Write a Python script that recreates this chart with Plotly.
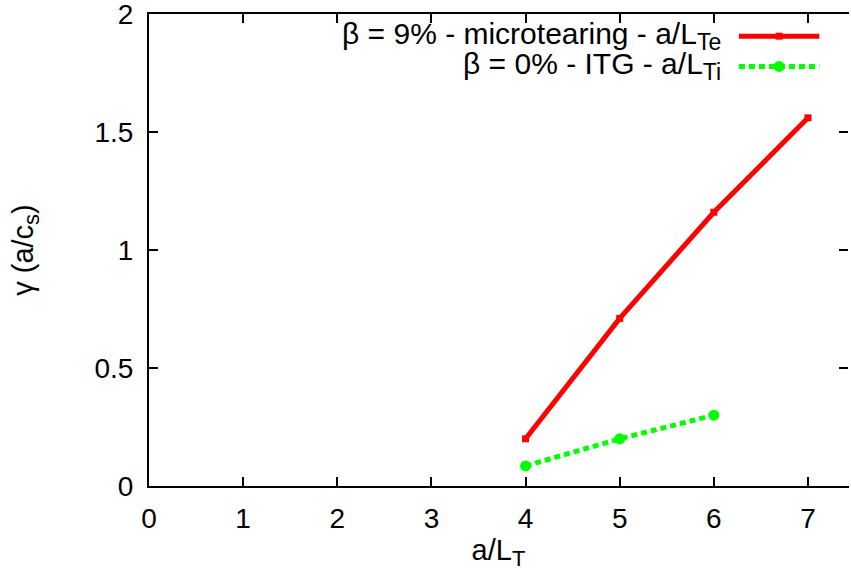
import plotly.graph_objects as go

# data
x_mt = [4, 5, 6, 7]
y_mt = [0.2, 0.71, 1.16, 1.56]
x_itg = [4, 5, 6]
y_itg = [0.085, 0.2, 0.3]

name_mt = "β = 9% - microtearing - a/L<sub><span style='font-size:23px'>Te</span></sub>"
name_itg = "β = 0% - ITG - a/L<sub><span style='font-size:23px'>Ti</span></sub>"
x_title = "a/L<sub><span style='font-size:22px'>T</span></sub>"
y_title = "γ (a/c<sub><span style='font-size:22px'>s</span></sub>)"
x_ticks = [0, 1, 2, 3, 4, 5, 6, 7]
y_ticks = [0, 0.5, 1, 1.5, 2]
y_tick_text = ["0", "0.5", "1", "1.5", "2"]

RED = "#ff0000"
GREEN = "#00ff00"
FONT = "Liberation Sans"

fig = go.Figure()
fig.add_trace(go.Scatter(x=x_mt, y=y_mt, mode="lines+markers",
                         line=dict(color=RED, width=5),
                         marker=dict(symbol="square", size=7, color=RED),
                         showlegend=False))
fig.add_trace(go.Scatter(x=x_itg, y=y_itg, mode="lines+markers",
                         line=dict(color=GREEN, width=5, dash="6px,4px"),
                         marker=dict(symbol="circle", size=11, color=GREEN),
                         showlegend=False))
# invisible trace to anchor the mirrored right-hand ticks
fig.add_trace(go.Scatter(x=x_mt, y=y_mt, yaxis="y2", mode="markers",
                         marker=dict(opacity=0), showlegend=False, hoverinfo="skip"))

# manual gnuplot-style legend (text left of the sample)
legend_rows = [(name_mt, RED, "solid", "square", 7, 0.953),
               (name_itg, GREEN, "6px,4px", "circle", 11, 0.889)]
for text, col, dash, sym, msz, yy in legend_rows:
    fig.add_annotation(x=0.821, y=yy, xref="paper", yref="paper", text=text,
                       showarrow=False, xanchor="right", yanchor="middle",
                       font=dict(family=FONT, size=30, color="black"))
    fig.add_shape(type="line", xref="paper", yref="paper", x0=0.844, x1=0.959,
                  y0=yy, y1=yy, line=dict(color=col, width=5, dash=dash))
    fig.add_trace(go.Scatter(x=[0.9015], y=[yy], xaxis="x2", yaxis="y3", mode="markers",
                             marker=dict(symbol=sym, size=msz, color=col),
                             showlegend=False, hoverinfo="skip"))

axis_common = dict(showgrid=False, zeroline=False, ticks="inside", ticklen=9,
                   tickwidth=2, tickcolor="black", linecolor="black", linewidth=2,
                   ticklabeloverflow="allow", automargin=False,
                   tickfont=dict(family=FONT, size=28, color="black"))

fig.update_layout(
    width=851, height=582,
    margin=dict(l=149, r=3, t=14, b=96),
    paper_bgcolor="white", plot_bgcolor="white",
    font=dict(family=FONT, color="black"),
    xaxis=dict(range=[0, 7.425], tickvals=x_ticks, showline=True, mirror="ticks",
               ticklabelstandoff=6,
               title=dict(text=x_title, font=dict(family=FONT, size=29), standoff=4),
               **axis_common),
    yaxis=dict(range=[0, 2], tickvals=y_ticks, ticktext=y_tick_text, showline=True,
               ticklabelstandoff=8,
               title=dict(text=y_title, font=dict(family=FONT, size=29), standoff=52),
               **axis_common),
    yaxis2=dict(range=[0, 2], overlaying="y", side="right", anchor="x", tickvals=y_ticks,
                showticklabels=False, showgrid=False, zeroline=False, showline=True,
                linecolor="rgba(0,0,0,0)", automargin=False,
                ticks="inside", ticklen=9, tickwidth=2, tickcolor="black"),
    xaxis2=dict(range=[0, 1], overlaying="x", visible=False),
    yaxis3=dict(range=[0, 1], overlaying="y", visible=False),
)

fig.write_html("out.html")
